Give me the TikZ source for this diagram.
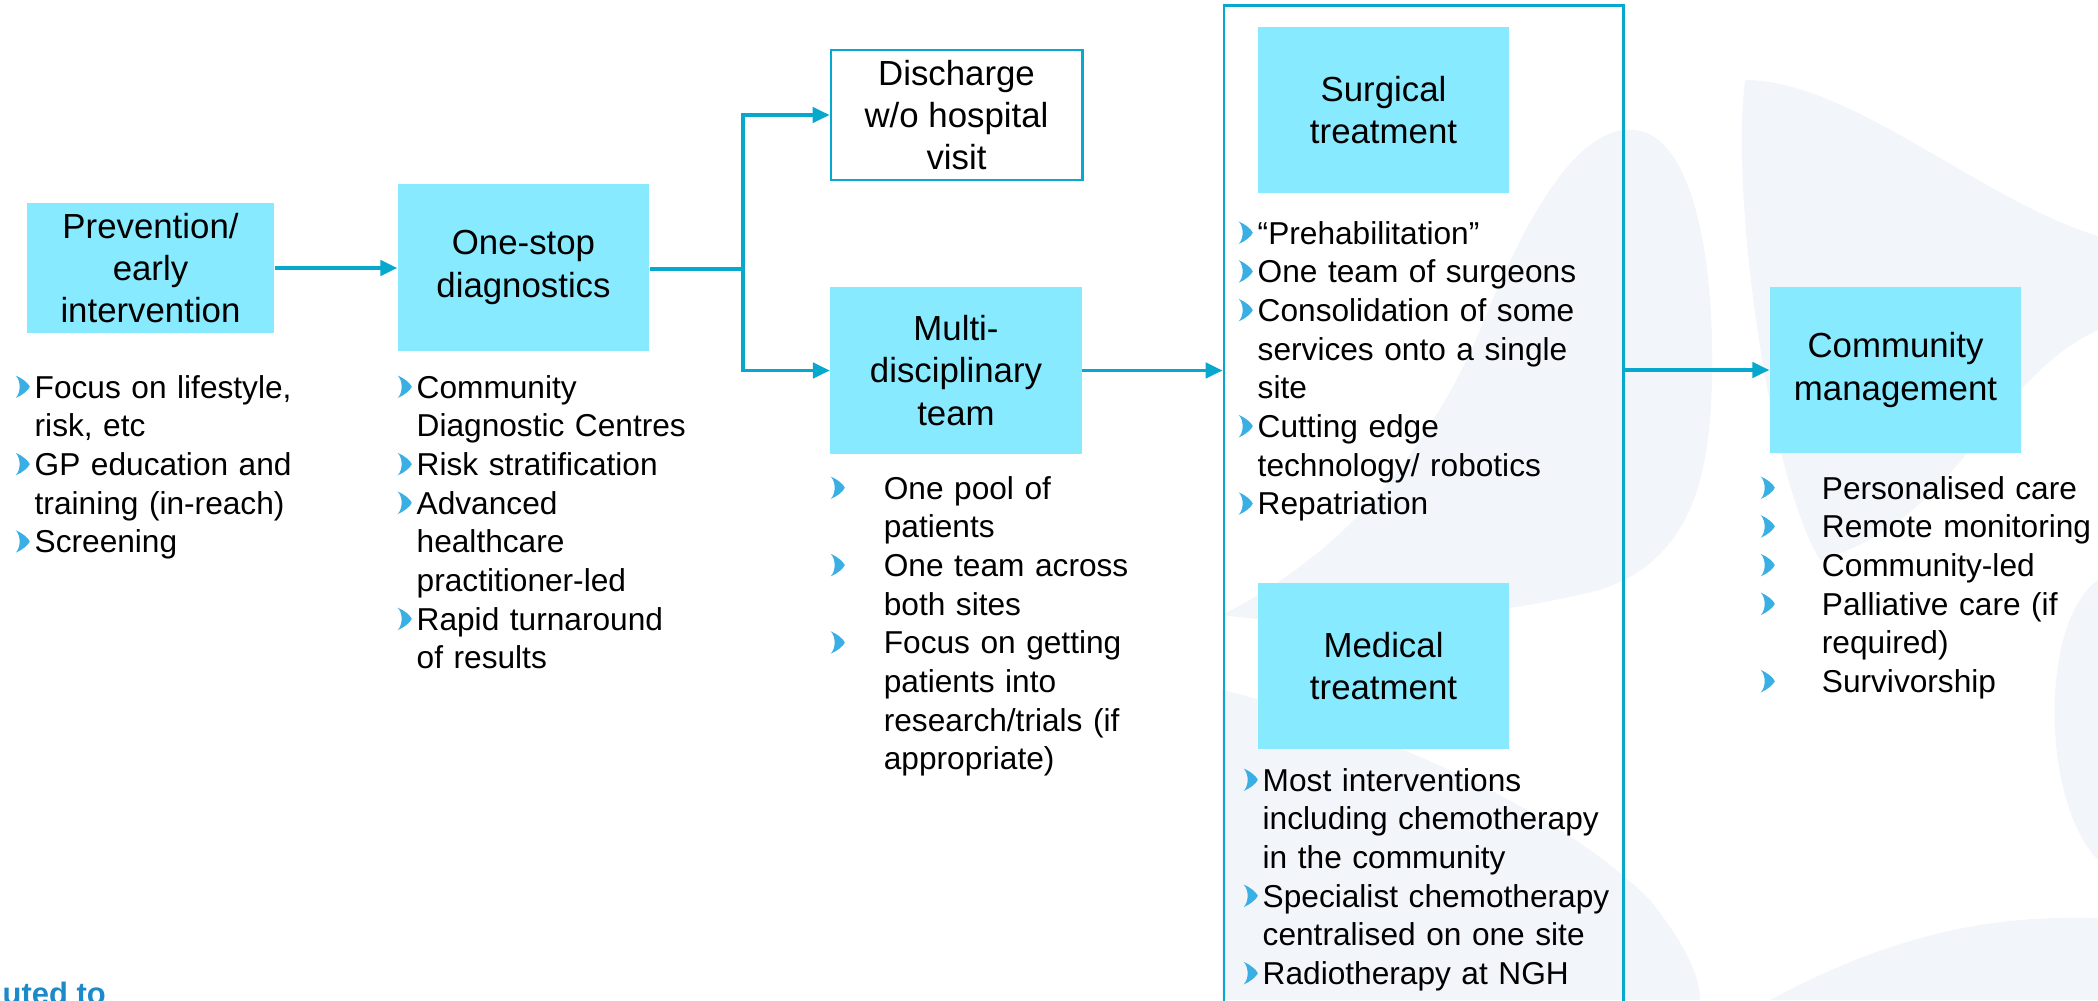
\documentclass[tikz,border=0pt]{standalone}
\usepackage{fontspec}
\setmainfont{Liberation Sans}
\definecolor{KCyan}{HTML}{88EAFF}
\definecolor{KTeal}{HTML}{06A8CE}
\definecolor{KBullet}{HTML}{3AAFE4}
\definecolor{KMist}{HTML}{F2F6FA}
\definecolor{KLogo}{HTML}{1C8AC9}
\usetikzlibrary{arrows.meta,positioning,calc}

\newlength{\KInd}
\newcommand{\chev}{\tikz[baseline=0pt]\fill[KBullet] (0,0)
  .. controls (1.9pt,0.8pt) and (3.6pt,2.2pt) .. (4pt,3.2pt)
  .. controls (3.6pt,4.2pt) and (1.9pt,5.6pt) .. (0,6.4pt)
  .. controls (1.5pt,4.8pt) and (1.5pt,1.6pt) .. (0,0) -- cycle;}
\newcommand{\itm}[1]{\noindent\hangindent=\KInd\hangafter=1%
  \makebox[\KInd][l]{\chev}#1\par}

\tikzset{
  stage/.style={rectangle,fill=KCyan,inner sep=0pt,minimum width=2.51cm,
    minimum height=1.66cm,align=center,font=\fontsize{9.9}{12}\selectfont},
  open stage/.style={stage,fill=white,draw=KTeal,line width=0.8pt},
  notes/.style={inner sep=0pt,anchor=base west,text width=6cm,align=left,
    font=\fontsize{9}{11}\selectfont\setlength{\KInd}{5.4pt}},
  wide notes/.style={notes,font=\fontsize{9}{11}\selectfont\setlength{\KInd}{#1}},
  flow/.style={draw=KTeal,line width=0.9pt,-{Triangle[length=4.8pt,width=4.4pt]}},
  link/.style={draw=KTeal,line width=1.2pt},
}

\begin{document}
\begin{tikzpicture}[x=0.01cm,y=-0.01cm]
  \useasboundingbox (0,0) rectangle (2098,1000);
  \clip (0,0) rectangle (2098,1000);

  % faint background shapes
  \fill[KMist] (1222,615) .. controls (1330,560) and (1420,470) .. (1480,330)
    .. controls (1540,180) and (1590,125) .. (1635,130)
    .. controls (1690,135) and (1715,250) .. (1712,380)
    .. controls (1710,480) and (1690,560) .. (1600,590)
    .. controls (1480,620) and (1330,630) .. (1222,615) -- cycle;
  \fill[KMist] (1222,690) .. controls (1350,720) and (1550,800) .. (1650,900)
    .. controls (1690,950) and (1700,980) .. (1700,1000) -- (1222,1000) -- cycle;
  \fill[KMist] (1745,80) .. controls (1850,80) and (1980,200) .. (2098,236)
    -- (2098,330) .. controls (1990,380) and (1960,520) .. (1820,560)
    .. controls (1770,480) and (1730,200) .. (1745,80) -- cycle;
  \fill[KMist] (2098,580) .. controls (2040,620) and (2040,800) .. (2098,860) -- cycle;
  \fill[KMist] (1770,1000) .. controls (1900,930) and (2000,915) .. (2098,918)
    -- (2098,1000) -- cycle;

  % stages
  \node[stage,minimum width=2.47cm,minimum height=1.30cm] (prev) at (150.5,268)
    {Prevention/\\early\\intervention};
  \node[stage,minimum height=1.67cm] (diag) at (523.5,267.5) {One-stop\\diagnostics};
  \node[open stage,minimum height=1.30cm] (disch) at (956.5,115)
    {Discharge\\w/o hospital\\visit};
  \node[stage,minimum height=1.67cm] (mdt) at (956,370.5) {Multi-\\disciplinary\\team};
  \node[draw=KTeal,line width=0.8pt,minimum width=3.99cm,minimum height=10.3cm,
        inner sep=0pt] (frame) at (1423.5,521) {};
  \node[stage] (surg) at (1383.5,110) {Surgical\\treatment};
  \node[stage] (med) at (1383.5,666) {Medical\\treatment};
  \node[stage] (comm) at (1895.5,370) {Community\\management};

  % bullet notes
  \node[notes] (prevnotes) at (15,398) {%
    \itm{Focus on lifestyle,\newline risk, etc}
    \itm{GP education and\newline training (in-reach)}
    \itm{Screening}};
  \node[notes] (diagnotes) at (397,398) {%
    \itm{Community\newline Diagnostic Centres}
    \itm{Risk stratification}
    \itm{Advanced\newline healthcare\newline practitioner-led}
    \itm{Rapid turnaround\newline of results}};
  \node[wide notes=15.1pt] (mdtnotes) at (830,499) {%
    \itm{One pool of\newline patients}
    \itm{One team across\newline both sites}
    \itm{Focus on getting\newline patients into\newline research/trials (if\newline appropriate)}};
  \node[notes] (surgnotes) at (1238,244) {%
    \itm{“Prehabilitation”}
    \itm{One team of surgeons}
    \itm{Consolidation of some\newline services onto a single\newline site}
    \itm{Cutting edge\newline technology/ robotics}
    \itm{Repatriation}};
  \node[notes] (mednotes) at (1243,791) {%
    \itm{Most interventions\newline including chemotherapy\newline in the community}
    \itm{Specialist chemotherapy\newline centralised on one site}
    \itm{Radiotherapy at NGH}};
  \node[wide notes=17.4pt] (commnotes) at (1760,499) {%
    \itm{Personalised care}
    \itm{Remote monitoring}
    \itm{Community-led}
    \itm{Palliative care (if\newline required)}
    \itm{Survivorship}};

  \node[anchor=base west,inner sep=0pt,text=KLogo,
        font=\fontsize{8.8}{10}\selectfont\bfseries] (tag) at (2,1004) {uted to};

  % connectors
  \coordinate (split) at (743,269);
  \draw[flow] (prev.east) -- (prev.east -| diag.west);
  \draw[link] (diag.east |- split) -- (split);
  \draw[flow] (split) |- (disch.west);
  \draw[flow] (split) |- (mdt.west);
  \draw[flow] (mdt.east) -- (mdt.east -| frame.west);
  \draw[flow] (frame.east |- comm.west) -- (comm.west);
\end{tikzpicture}
\end{document}
